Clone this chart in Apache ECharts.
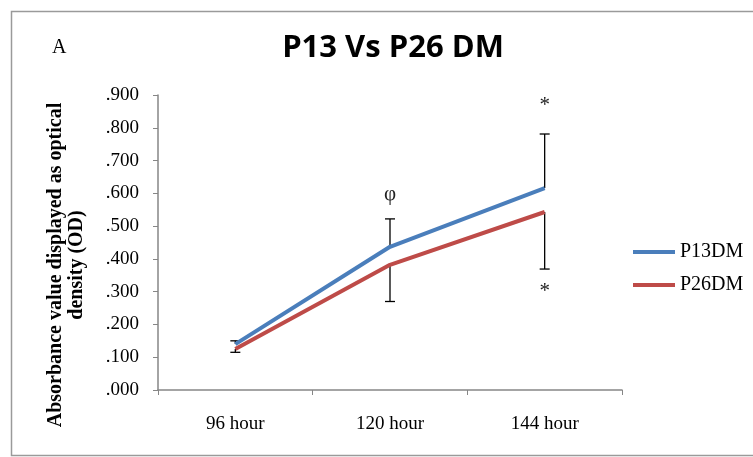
<!DOCTYPE html>
<html>
<head>
<meta charset="utf-8">
<script src="https://cdn.jsdelivr.net/npm/echarts@6/dist/echarts.min.js"></script>
<style>
  html, body { margin: 0; padding: 0; background: #fff; }
  #main { width: 753px; height: 457px; }
</style>
</head>
<body>
<div id="main"></div>
<script>
// categories and values
const hours = ['96 hour', '120 hour', '144 hour'];
const p13 = [0.140, 0.437, 0.616];
const p26 = [0.125, 0.382, 0.543];
// error bars: P13 drawn upward, P26 drawn downward
const p13Err = [0.010, 0.085, 0.165];
const p26Err = [0.010, 0.112, 0.174];
// significance marks [category index, value, symbol]
const marks = [
    [1, 0.595, 'φ'],
    [2, 0.868, '*'],
    [2, 0.300, '*']
];

const serif = '"Liberation Serif", "DejaVu Serif", serif';
const chart = echarts.init(document.getElementById('main'));

// error bar: vertical line with a cap at the far end
function errRender(params, api) {
    const i = api.value(0);
    const from = api.coord([i, api.value(1)]);
    const to = api.coord([i, api.value(2)]);
    const style = { stroke: '#000', lineWidth: 1.3 };
    return {
        type: 'group',
        children: [
            { type: 'line', shape: { x1: from[0], y1: from[1], x2: to[0], y2: to[1] }, style: style },
            { type: 'line', shape: { x1: to[0] - 5, y1: to[1], x2: to[0] + 5, y2: to[1] }, style: style }
        ]
    };
}

chart.setOption({
    animation: false,
    title: {
        text: 'P13 Vs P26 DM',
        left: 388,
        top: 28,
        textAlign: 'center',
        textStyle: { fontFamily: '"Open Sans", sans-serif', fontWeight: 'bold', fontSize: 31, color: '#000' }
    },
    legend: {
        orient: 'vertical',
        left: 628,
        top: 237,
        itemGap: 13,
        itemWidth: 42,
        itemHeight: 4,
        icon: 'rect',
        textStyle: { fontFamily: serif, fontSize: 20, color: '#000', padding: [0, 0, 0, 0] },
        data: ['P13DM', 'P26DM']
    },
    graphic: [
        { type: 'rect', left: 9, top: 9, shape: { width: 760, height: 444 }, style: { fill: 'none', stroke: '#9a9a9a', lineWidth: 1.5 } },
        { type: 'text', left: 52, top: 38, style: { text: 'A', font: '20px ' + serif, fill: '#000' } },
        {
            type: 'text', x: 66, y: 265, rotation: Math.PI / 2,
            style: {
                text: 'Absorbance value displayed as optical\ndensity (OD)',
                font: 'bold 20px ' + serif, fill: '#000',
                align: 'center', verticalAlign: 'middle', lineHeight: 21
            }
        }
    ],
    grid: { left: 158, right: 131, top: 95, bottom: 67 },
    xAxis: {
        type: 'category',
        data: hours,
        axisLine: { lineStyle: { color: '#868686', width: 1.5 } },
        axisTick: { show: true, length: 5, lineStyle: { color: '#868686' } },
        axisLabel: { fontFamily: serif, fontSize: 19, color: '#000', margin: 25 }
    },
    yAxis: {
        type: 'value',
        min: 0,
        max: 0.9,
        interval: 0.1,
        splitLine: { show: false },
        axisLine: { show: true, lineStyle: { color: '#868686', width: 1.5 } },
        axisTick: { show: true, length: 5, lineStyle: { color: '#868686' } },
        axisLabel: {
            fontFamily: serif, fontSize: 19, color: '#000', margin: 19,
            formatter: v => '.' + (v.toFixed(3).split('.')[1])
        }
    },
    series: [
        {
            name: 'P13DM', type: 'line', data: p13, symbol: 'none',
            lineStyle: { color: '#4a7ebb', width: 4 }, itemStyle: { color: '#4a7ebb' }, z: 3
        },
        {
            name: 'P26DM', type: 'line', data: p26, symbol: 'none',
            lineStyle: { color: '#be4b48', width: 4 }, itemStyle: { color: '#be4b48' }, z: 3
        },
        {
            type: 'custom', renderItem: errRender, z: 2,
            data: p13.map((v, i) => [i, v, v + p13Err[i]])
        },
        {
            type: 'custom', renderItem: errRender, z: 2,
            data: p26.map((v, i) => [i, v, v - p26Err[i]])
        },
        {
            type: 'custom', z: 4,
            renderItem: function (params, api) {
                const p = api.coord([api.value(0), api.value(1)]);
                return {
                    type: 'text', x: p[0], y: p[1],
                    style: {
                        text: marks[params.dataIndex][2], font: '21px ' + serif,
                        fill: '#222', align: 'center', verticalAlign: 'middle'
                    }
                };
            },
            data: marks.map(m => [m[0], m[1]])
        }
    ]
});
</script>
</body>
</html>
